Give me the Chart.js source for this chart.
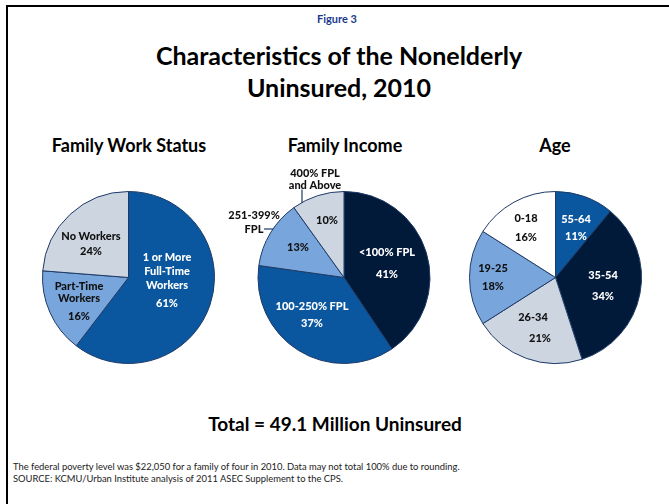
<!DOCTYPE html>
<html><head><meta charset="utf-8">
<script src="https://cdn.jsdelivr.net/npm/chart.js@4.4.0/dist/chart.umd.min.js"></script>
<style>
html,body{margin:0;padding:0;background:#fff;}
#wrap{position:relative;width:669px;height:504px;overflow:hidden;font-family:Lato,"Open Sans",sans-serif;}
.frame{position:absolute;left:6px;top:5px;width:700px;height:600px;border-left:2px solid #000;border-top:2px solid #000;}
.t{position:absolute;white-space:nowrap;transform:translate(-50%,-50%);font-weight:bold;color:#000;line-height:1;}
.foot{position:absolute;left:13px;white-space:nowrap;font-size:9.4px;color:#222;line-height:1;transform:translateY(-50%);}
canvas{position:absolute;left:0;top:0;}
</style></head>
<body><div id="wrap">
<div class="frame"></div>
<div class="t" style="left:337px;top:18px;font-size:11px;color:#1c3a8c">Figure 3</div>
<div class="t" style="left:339px;top:55px;font-size:25px">Characteristics of the Nonelderly</div>
<div class="t" style="left:339px;top:87px;font-size:25px">Uninsured, 2010</div>
<div class="t" style="left:129px;top:145px;font-size:18px">Family Work Status</div>
<div class="t" style="left:345px;top:145px;font-size:18px">Family Income</div>
<div class="t" style="left:555px;top:145px;font-size:18px">Age</div>
<div class="t" style="left:335px;top:423px;font-size:19px">Total = 49.1 Million Uninsured</div>
<div class="foot" style="top:467px">The federal poverty level was $22,050 for a family of four in 2010. Data may not total 100% due to rounding.</div>
<div class="foot" style="top:479px">SOURCE: KCMU/Urban Institute analysis of 2011 ASEC Supplement to the CPS.</div>
<canvas id="c1" width="669" height="504"></canvas>
<canvas id="c2" width="669" height="504"></canvas>
<canvas id="c3" width="669" height="504"></canvas>
</div>
<script>
// ---- data ----
const workLabels = ['1 or More Full-Time Workers', 'Part-Time Workers', 'No Workers'];
const workValues = [61, 16, 24];
const incomeLabels = ['<100% FPL', '100-250% FPL', '251-399% FPL', '400% FPL and Above'];
const incomeValues = [41, 37, 13, 10];
const ageLabels = ['55-64', '35-54', '26-34', '19-25', '0-18'];
const ageValues = [11, 34, 21, 18, 16];

// ---- styles ----
const NAVY = '#021a3a', BLUE = '#0b579f', LBLUE = '#78a6dc', GRAY = '#cdd5e0', WHITE = '#ffffff';
const W = 669, H = 504, R = 86.5;

function labelPlugin(layout) {
  return {
    id: 'sliceLabels',
    afterDatasetsDraw(chart) {
      const ctx = chart.ctx;
      const meta = chart.getDatasetMeta(0);
      ctx.save();
      ctx.textAlign = 'center';
      ctx.textBaseline = 'middle';
      ctx.font = '900 11px Lato, "Open Sans", sans-serif';
      meta.data.forEach((arc, i) => {
        const L = layout[i];
        const val = chart.data.datasets[0].data[i];
        ctx.fillStyle = L.color;
        const lines = L.inside.concat([val + '%']);
        lines.forEach((txt, k) => {
          ctx.fillText(txt, arc.x + (L.dxs ? L.dxs[k] : L.dx), arc.y + L.dys[k]);
        });
        if (L.outside) {
          ctx.fillStyle = '#111';
          L.outside.lines.forEach((txt, k) => {
            ctx.fillText(txt, arc.x + L.outside.dx, arc.y + L.outside.dys[k]);
          });
          ctx.strokeStyle = '#1e3a66';
          ctx.lineWidth = 1.2;
          ctx.beginPath();
          ctx.moveTo(arc.x + L.outside.line[0], arc.y + L.outside.line[1]);
          ctx.lineTo(arc.x + L.outside.line[2], arc.y + L.outside.line[3]);
          ctx.stroke();
        }
      });
      ctx.restore();
    }
  };
}

function makePie(id, labels, values, colors, center, layout) {
  new Chart(document.getElementById(id), {
    type: 'pie',
    data: {
      labels: labels,
      datasets: [{
        data: values,
        backgroundColor: colors,
        borderColor: '#1e3a66',
        borderWidth: 1
      }]
    },
    options: {
      responsive: false,
      animation: false,
      devicePixelRatio: 1,
      layout: {
        padding: {
          left: center[0] - R,
          right: W - center[0] - R,
          top: center[1] - R,
          bottom: H - center[1] - R
        }
      },
      plugins: { legend: { display: false }, tooltip: { enabled: false } }
    },
    plugins: [labelPlugin(layout)]
  });
}

makePie('c1', workLabels, workValues, [BLUE, LBLUE, GRAY], [128.5, 277.5], [
  { color: '#fff', inside: ['1 or More', 'Full-Time', 'Workers'], dx: 38.5, dys: [-20.5, -6.5, 7.5, 25.5] },
  { color: '#111', inside: ['Part-Time', 'Workers'], dx: -49.5, dys: [8.5, 20.5, 38.5] },
  { color: '#111', inside: ['No Workers'], dx: -37.5, dys: [-41.5, -26.5] }
]);

makePie('c2', incomeLabels, incomeValues, [NAVY, BLUE, LBLUE, GRAY], [344, 277.5], [
  { color: '#fff', inside: ['<100% FPL'], dx: 43, dys: [-25.5, -3.5] },
  { color: '#fff', inside: ['100-250% FPL'], dx: -32, dys: [28.5, 45.5] },
  { color: '#111', inside: [], dx: -46, dys: [-30.5],
    outside: { lines: ['251-399%', 'FPL'], dx: -90, dys: [-62.5, -48.5], line: [-80, -48.5, -71, -48.5] } },
  { color: '#111', inside: [], dx: -17, dys: [-57.5],
    outside: { lines: ['400% FPL', 'and Above'], dx: -29, dys: [-104.5, -92.5], line: [-42, -88, -42, -74.5] } }
]);

makePie('c3', ageLabels, ageValues, [BLUE, NAVY, GRAY, LBLUE, WHITE], [555.5, 277.5], [
  { color: '#fff', inside: ['55-64'], dx: 20.5, dys: [-58.5, -41.5] },
  { color: '#fff', inside: ['35-54'], dx: 47.5, dys: [-2.5, 18.5] },
  { color: '#111', inside: ['26-34'], dxs: [-22.5, -15.5], dys: [39.5, 60.5] },
  { color: '#111', inside: ['19-25'], dx: -62.5, dys: [-9.5, 8.5] },
  { color: '#111', inside: ['0-18'], dx: -29.5, dys: [-59.5, -40.5] }
]);
</script>
</body></html>
